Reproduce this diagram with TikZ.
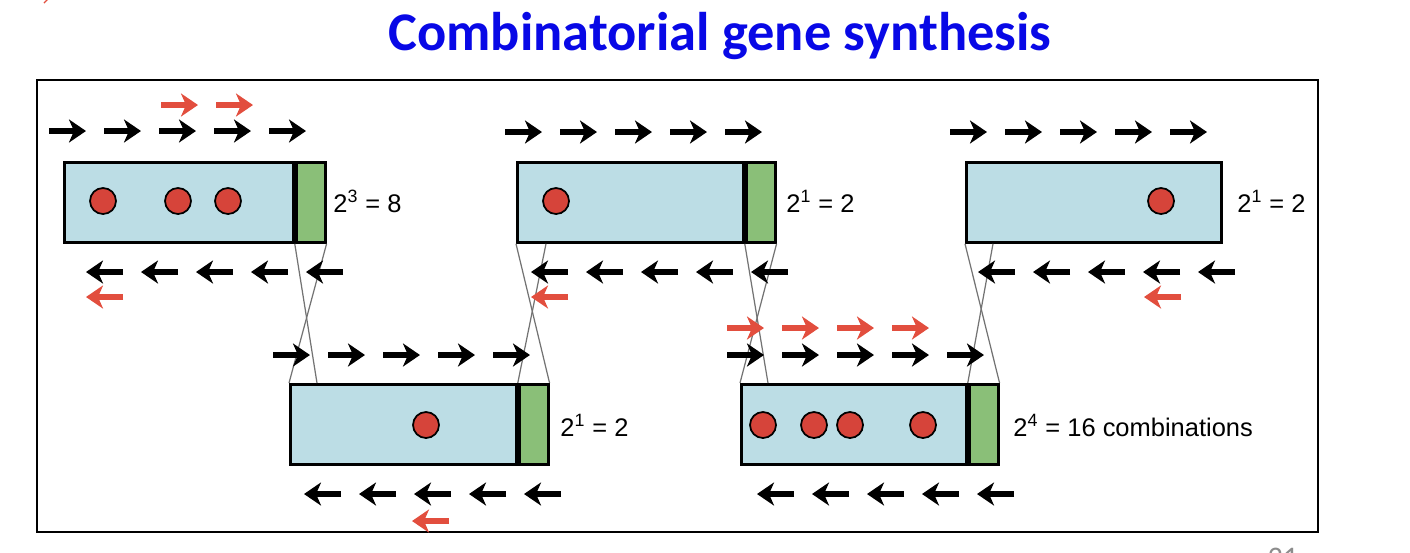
\documentclass[tikz,border=0pt]{standalone}
\usepackage{fontspec}
\setmainfont{Liberation Sans}
\newfontfamily\titlefont{Carlito}
\usetikzlibrary{arrows.meta,positioning}
\definecolor{cassblue}{RGB}{188,221,229}
\definecolor{tagreen}{RGB}{138,191,120}
\definecolor{dotred}{RGB}{214,68,58}
\definecolor{primerred}{RGB}{226,78,62}
\definecolor{titleblue}{RGB}{8,8,230}
\tikzset{
  cassette/.style={draw,line width=1.6pt,fill=cassblue,minimum height=1.6cm,
    inner sep=0pt,anchor=north west},
  tagbox/.style={draw,line width=1.6pt,fill=tagreen,minimum height=1.6cm,
    minimum width=0.58cm,inner sep=0pt},
  mutdot/.style={circle,draw,line width=1pt,fill=dotred,minimum size=0.52cm,inner sep=0pt},
  primer/.style={line width=3.2pt,-{Stealth[length=0.34cm,width=0.46cm,inset=0.1cm]}},
  xover/.style={draw=black!55,line width=0.7pt},
  combo/.style={anchor=base west,inner sep=0pt,font=\fontsize{14.5}{17}\selectfont}
}
\newcommand{\fwdprimers}[4]{% x, y, how many, colour
  \foreach \k in {1,...,#3}
    \draw[primer,#4] ({#1+(\k-1)*55},#2) -- ++(37,0);%
}
\newcommand{\revprimers}[4]{%
  \foreach \k in {1,...,#3}
    \draw[primer,#4] ({#1+(\k-1)*55+37},#2) -- ++(-37,0);%
}

\begin{document}
\begin{tikzpicture}[x=0.02cm,y=-0.02cm]
  \useasboundingbox (0,0) rectangle (1410,552);
  \draw[primerred,line width=0.8pt] (44,3) -- (48,-1);
  \node[anchor=base,text=titleblue,font=\titlefont\bfseries\fontsize{31}{36}\selectfont]
    (title) at (720,50) {Combinatorial gene synthesis};
  \node[draw,line width=1.1pt,minimum width=25.62cm,minimum height=9.04cm,inner sep=0pt]
    (frame) at (677.5,306) {};
  \node[text=black!45,font=\titlefont\fontsize{17}{20}\selectfont] (pagenum) at (1283,558) {21};

  % cassettes
  \node[cassette,minimum width=4.58cm] (b1) at (63,161) {};
  \node[tagbox,right=0pt of b1] (b1t) {};
  \node[cassette,minimum width=4.52cm] (b2) at (289,383) {};
  \node[tagbox,right=0pt of b2] (b2t) {};
  \node[cassette,minimum width=4.52cm] (b3) at (516,161) {};
  \node[tagbox,right=0pt of b3] (b3t) {};
  \node[cassette,minimum width=4.5cm] (b4) at (740,383) {};
  \node[tagbox,right=0pt of b4] (b4t) {};
  \node[cassette,minimum width=5.1cm] (b5) at (965,161) {};

  % mutations
  \node[mutdot] (m1) at (103,201) {};
  \node[mutdot] (m2) at (178,201) {};
  \node[mutdot] (m3) at (228,201) {};
  \node[mutdot] (m4) at (556,201) {};
  \node[mutdot] (m5) at (1161,201) {};
  \node[mutdot] (m6) at (426,425) {};
  \node[mutdot] (m7) at (763,425) {};
  \node[mutdot] (m8) at (814,425) {};
  \node[mutdot] (m9) at (850,425) {};
  \node[mutdot] (m10) at (923,425) {};

  \node[combo] (c1) at (333,212) {2\textsuperscript{3} = 8};
  \node[combo] (c3) at (786,212) {2\textsuperscript{1} = 2};
  \node[combo] (c5) at (1237,212) {2\textsuperscript{1} = 2};
  \node[combo] (c2) at (560,436) {2\textsuperscript{1} = 2};
  \node[combo] (c4) at (1013,436) {2\textsuperscript{4} = 16 combinations};

  % overlaps
  \draw[xover] (b1t.south west) -- ([xshift=0.56cm]b2.north west);
  \draw[xover] (b1t.south east) -- (b2.north west);
  \draw[xover] (b3.south west) -- (b2t.north east);
  \draw[xover] ([xshift=0.6cm]b3.south west) -- (b2t.north west);
  \draw[xover] (b3t.south west) -- ([xshift=0.56cm]b4.north west);
  \draw[xover] (b3t.south east) -- (b4.north west);
  \draw[xover] (b5.south west) -- (b4t.north east);
  \draw[xover] ([xshift=0.56cm]b5.south west) -- (b4t.north west);

  % oligos
  \fwdprimers{49}{131}{5}{black}
  \fwdprimers{161}{105}{2}{primerred}
  \revprimers{86}{272}{5}{black}
  \revprimers{86}{297}{1}{primerred}
  \fwdprimers{505}{132}{5}{black}
  \revprimers{531}{272}{5}{black}
  \revprimers{531}{297}{1}{primerred}
  \fwdprimers{950}{132}{5}{black}
  \revprimers{978}{272}{5}{black}
  \revprimers{1144}{297}{1}{primerred}
  \fwdprimers{273}{355}{5}{black}
  \revprimers{304}{494}{5}{black}
  \revprimers{412}{521}{1}{primerred}
  \fwdprimers{727}{328}{4}{primerred}
  \fwdprimers{727}{355}{5}{black}
  \revprimers{757}{494}{5}{black}
\end{tikzpicture}
\end{document}
